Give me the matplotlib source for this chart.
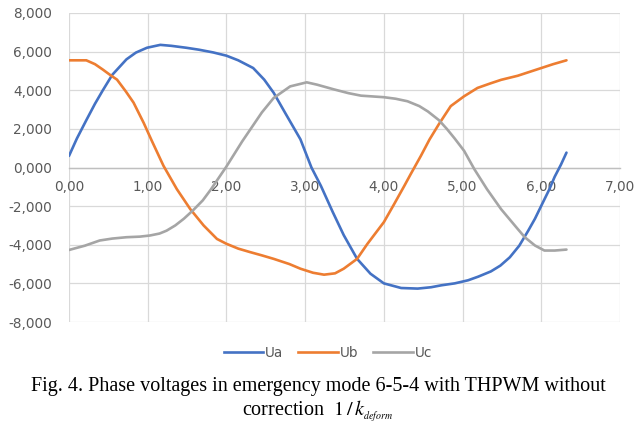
import matplotlib
matplotlib.use("Agg")
import matplotlib.pyplot as plt
from matplotlib.lines import Line2D

# ---- data ----
ua_x = [0.00, 0.10, 0.22, 0.33, 0.43, 0.55, 0.73, 0.85, 0.99, 1.16, 1.30, 1.49, 1.65, 1.83, 2.00, 2.15, 2.34, 2.48, 2.60, 2.75, 2.94, 3.08, 3.20, 3.35, 3.49, 3.66, 3.83, 4.00, 4.22, 4.43, 4.60, 4.73, 4.90, 5.07, 5.20, 5.36, 5.48, 5.60, 5.72, 5.83, 5.92, 6.00, 6.10, 6.17, 6.25, 6.32]
ua_y = [600, 1500, 2450, 3300, 4000, 4800, 5600, 5950, 6200, 6350, 6300, 6200, 6100, 5960, 5790, 5550, 5150, 4550, 3870, 2800, 1460, 0, -950, -2300, -3500, -4730, -5500, -6000, -6240, -6270, -6200, -6100, -6000, -5840, -5650, -5380, -5080, -4650, -4050, -3300, -2650, -1980, -1150, -480, 150, 770]

ub_x = [0.00, 0.10, 0.22, 0.33, 0.43, 0.52, 0.61, 0.72, 0.82, 0.95, 1.05, 1.20, 1.37, 1.54, 1.71, 1.88, 2.00, 2.15, 2.30, 2.45, 2.60, 2.80, 2.94, 3.10, 3.24, 3.38, 3.49, 3.66, 3.79, 4.00, 4.13, 4.26, 4.34, 4.47, 4.58, 4.70, 4.85, 5.02, 5.19, 5.35, 5.49, 5.70, 5.85, 6.00, 6.15, 6.32]
ub_y = [5550, 5550, 5550, 5350, 5070, 4800, 4550, 3950, 3360, 2300, 1400, 90, -1120, -2150, -3000, -3700, -3950, -4200, -4380, -4550, -4730, -5000, -5240, -5450, -5550, -5480, -5240, -4730, -3960, -2830, -1900, -950, -350, 600, 1450, 2250, 3180, 3690, 4120, 4350, 4540, 4750, 4950, 5150, 5350, 5550]

uc_x = [0.00, 0.20, 0.39, 0.55, 0.73, 0.90, 1.03, 1.15, 1.24, 1.35, 1.46, 1.58, 1.70, 1.80, 1.90, 2.00, 2.10, 2.20, 2.30, 2.45, 2.60, 2.81, 3.02, 3.15, 3.37, 3.55, 3.71, 4.00, 4.15, 4.30, 4.45, 4.56, 4.70, 4.80, 4.90, 5.02, 5.15, 5.31, 5.49, 5.70, 5.79, 5.92, 6.04, 6.17, 6.32]
uc_y = [-4270, -4050, -3780, -3680, -3610, -3580, -3520, -3420, -3270, -3000, -2650, -2200, -1700, -1150, -550, 50, 700, 1350, 1950, 2850, 3600, 4200, 4410, 4290, 4040, 3850, 3720, 3640, 3560, 3430, 3180, 2900, 2450, 2000, 1500, 860, -90, -1120, -2160, -3180, -3610, -4040, -4300, -4300, -4250]

x_ticks = [0, 1, 2, 3, 4, 5, 6, 7]
x_labels = ["0,00", "1,00", "2,00", "3,00", "4,00", "5,00", "6,00", "7,00"]
y_ticks = [-8000, -6000, -4000, -2000, 0, 2000, 4000, 6000, 8000]
y_labels = ["-8,000", "-6,000", "-4,000", "-2,000", "0,000", "2,000", "4,000", "6,000", "8,000"]

series = [("Ua", ua_x, ua_y, "#4472C4"),
          ("Ub", ub_x, ub_y, "#ED7D31"),
          ("Uc", uc_x, uc_y, "#A5A5A5")]

plt.rcParams['mathtext.fontset'] = 'stix'
fig = plt.figure(figsize=(6.36, 4.33), dpi=100)
ax = fig.add_axes([69/636, 1 - 322/433, (620-69)/636, (322-13)/433])

for name, xs, ys, c in series:
    ax.plot(xs, ys, color=c, lw=1.9, solid_capstyle='round', solid_joinstyle='round', zorder=3)

ax.set_xlim(0, 7)
ax.set_ylim(-8000, 8000)
ax.set_xticks(x_ticks)
ax.set_xticklabels(x_labels)
ax.set_yticks(y_ticks)
ax.set_yticklabels(y_labels)
ax.grid(True, color="#D9D9D9", lw=0.9, zorder=0)
for s in ['top', 'right', 'left']:
    ax.spines[s].set_visible(False)
ax.spines['bottom'].set_position(('data', 0))
ax.spines['bottom'].set_color("#BFBFBF")
ax.spines['bottom'].set_linewidth(1.0)
ax.tick_params(axis='both', length=0, labelsize=9.8, labelcolor="#595959")
ax.tick_params(axis='x', pad=9)
ax.tick_params(axis='y', pad=12)

handles = [Line2D([0], [0], color=c, lw=1.9) for _, _, _, c in series]
fig.legend(handles, [s[0] for s in series], loc='center', bbox_to_anchor=(328/636, 1 - 353/433),
           ncol=3, frameon=False, fontsize=9.8, labelcolor="#595959", handlelength=2.9,
           handletextpad=0.15, columnspacing=1.1)

fig.text(318/636, 1 - 386/433, "Fig. 4. Phase voltages in emergency mode 6-5-4 with THPWM without",
         ha='center', va='center', fontsize=14.5, family='Liberation Serif')
fig.text(318/636, 1 - 411/433, r"correction  $1\,/\,k_{_{deform}}$",
         ha='center', va='center', fontsize=14.5, family='Liberation Serif')

fig.savefig("out.png", dpi=100)
